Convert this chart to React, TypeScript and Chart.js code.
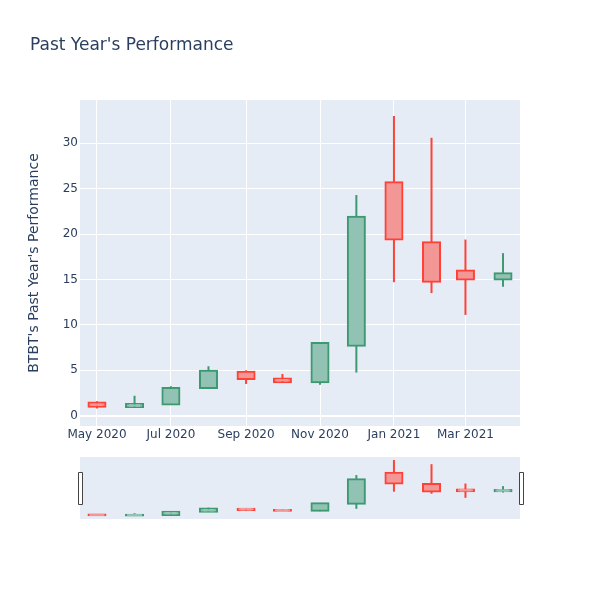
import React, { useEffect, useRef } from "react";
import { Chart, registerables } from "chart.js";

Chart.register(...registerables);

// ---- data ----
const dates = [
  "2020-05-01", "2020-06-01", "2020-07-01", "2020-08-01", "2020-09-01", "2020-10-01",
  "2020-11-01", "2020-12-01", "2021-01-01", "2021-02-01", "2021-03-01", "2021-04-01",
];
const opens = [1.45, 0.95, 1.25, 3.05, 4.85, 4.1, 3.7, 7.7, 25.7, 19.1, 16.0, 15.0];
const highs = [1.6, 2.2, 3.25, 5.45, 5.0, 4.6, 8.05, 24.3, 33.0, 30.6, 19.4, 17.9];
const lows = [0.8, 0.95, 1.2, 3.05, 3.5, 3.6, 3.4, 4.75, 14.7, 13.5, 11.1, 14.2];
const closes = [1.0, 1.3, 3.05, 4.95, 4.05, 3.7, 8.0, 21.9, 19.4, 14.75, 15.0, 15.7];

const xTickDates = ["2020-05-01", "2020-07-01", "2020-09-01", "2020-11-01", "2021-01-01", "2021-03-01"];
const xTickLabels = ["May 2020", "Jul 2020", "Sep 2020", "Nov 2020", "Jan 2021", "Mar 2021"];
const yTicks = [0, 5, 10, 15, 20, 25, 30];
const xRange = ["2020-04-17", "2021-04-15"];
const yRange = [-1.13, 34.76];

const chartTitle = "Past Year's Performance";
const yTitle = "BTBT's Past Year's Performance";

// ---- styles ----
const TEXT = "#2a3f5f";
const PLOT_BG = "#e5ecf6";
const UP_LINE = "#3D9970";
const DOWN_LINE = "#FF4136";
const UP_FILL = "#91c2b3";
const DOWN_FILL = "#f29696";
const FONT = '"DejaVu Sans", verdana, arial, sans-serif';

const toDay = (s: string) => Date.parse(s + "T00:00:00Z") / 86400000;

function buildDatasets() {
  const up = closes.map((c, i) => c >= opens[i]);
  return [
    {
      type: "bar" as const,
      label: "wick",
      data: dates.map((d, i) => ({ x: toDay(d), y: [lows[i], highs[i]] })),
      backgroundColor: up.map((u) => (u ? UP_LINE : DOWN_LINE)),
      borderWidth: 0,
      barThickness: 2,
      inflateAmount: 0,
      grouped: false,
      order: 2,
    },
    {
      type: "bar" as const,
      label: "body",
      data: dates.map((d, i) => ({ x: toDay(d), y: [opens[i], closes[i]] })),
      backgroundColor: up.map((u) => (u ? UP_FILL : DOWN_FILL)),
      borderColor: up.map((u) => (u ? UP_LINE : DOWN_LINE)),
      borderWidth: 2,
      borderSkipped: false,
      barThickness: 17,
      inflateAmount: 1,
      grouped: false,
      order: 1,
    },
  ];
}

const bgPlugin = {
  id: "plotBg",
  beforeDraw(chart: any, _args: any, opts: any) {
    const { ctx, chartArea } = chart;
    ctx.save();
    if (opts && opts.canvasWhite) {
      ctx.fillStyle = "#ffffff";
      ctx.fillRect(0, 0, chart.width, chart.height);
    }
    ctx.fillStyle = PLOT_BG;
    ctx.fillRect(chartArea.left, chartArea.top, chartArea.right - chartArea.left, chartArea.bottom - chartArea.top);
    ctx.restore();
  },
};

const handlesPlugin = {
  id: "sliderHandles",
  afterDraw(chart: any) {
    const { ctx, chartArea } = chart;
    const mid = (chartArea.top + chartArea.bottom) / 2;
    const h = 32;
    const w = 4;
    ctx.save();
    ctx.fillStyle = "#ffffff";
    ctx.strokeStyle = "#444444";
    ctx.lineWidth = 1;
    [chartArea.left - 0.5, chartArea.right + 0.5].forEach((cx) => {
      ctx.beginPath();
      ctx.rect(Math.round(cx - w / 2) + 0.5, Math.round(mid - h / 2) + 0.5, w, h);
      ctx.fill();
      ctx.stroke();
    });
    ctx.restore();
  },
};

export default function App() {
  const mainRef = useRef<HTMLCanvasElement | null>(null);
  const sliderRef = useRef<HTMLCanvasElement | null>(null);

  useEffect(() => {
    Chart.defaults.font.family = FONT;
    Chart.defaults.color = TEXT;

    const main = new Chart(mainRef.current as HTMLCanvasElement, {
      type: "bar",
      data: { datasets: buildDatasets() as any },
      plugins: [bgPlugin],
      options: {
        animation: false,
        responsive: false,
        layout: { padding: { left: 30, right: 80, top: 0, bottom: 144 } },
        plugins: {
          legend: { display: false },
          tooltip: { enabled: false },
          plotBg: { canvasWhite: true },
          title: {
            display: true,
            text: chartTitle,
            align: "start",
            color: TEXT,
            font: { size: 17, weight: "normal", family: FONT },
            padding: { top: 35.3, bottom: 44.3 },
          },
        } as any,
        scales: {
          x: {
            type: "linear",
            min: toDay(xRange[0]),
            max: toDay(xRange[1]),
            offset: false,
            afterBuildTicks: (s: any) => {
              s.ticks = xTickDates.map((d) => ({ value: toDay(d) }));
            },
            afterFit: (s: any) => {
              s.height = 30;
            },
            ticks: {
              color: TEXT,
              font: { size: 12 },
              padding: 2,
              maxRotation: 0,
              autoSkip: false,
              callback: (_v: any, i: number) => xTickLabels[i],
            },
            grid: { color: "#ffffff", drawTicks: false, offset: false },
            border: { display: false },
          },
          y: {
            type: "linear",
            min: yRange[0],
            max: yRange[1],
            afterBuildTicks: (s: any) => {
              s.ticks = yTicks.map((v) => ({ value: v }));
            },
            afterFit: (s: any) => {
              s.width = 50;
            },
            ticks: { color: TEXT, font: { size: 12 }, padding: 2 },
            grid: {
              color: "#ffffff",
              drawTicks: false,
              lineWidth: (ctx: any) => (ctx.tick && ctx.tick.value === 0 ? 2 : 1),
            },
            border: { display: false },
            title: {
              display: true,
              text: yTitle,
              color: TEXT,
              font: { size: 14 },
              padding: { top: -4.4, bottom: 0 },
            },
          },
        },
      } as any,
    });

    const slider = new Chart(sliderRef.current as HTMLCanvasElement, {
      type: "bar",
      data: { datasets: buildDatasets() as any },
      plugins: [bgPlugin, handlesPlugin],
      options: {
        animation: false,
        responsive: false,
        layout: { padding: { left: 80, right: 80, top: 457, bottom: 81 } },
        plugins: {
          legend: { display: false },
          tooltip: { enabled: false },
          title: { display: false },
          plotBg: { canvasWhite: false },
        } as any,
        scales: {
          x: {
            type: "linear",
            display: false,
            min: toDay(xRange[0]),
            max: toDay(xRange[1]),
            offset: false,
            grid: { offset: false },
          },
          y: { type: "linear", display: false, min: yRange[0], max: yRange[1] },
        },
      } as any,
    });

    return () => {
      main.destroy();
      slider.destroy();
    };
  }, []);

  return (
    <div style={{ position: "absolute", left: 0, top: 0, width: 600, height: 600 }}>
      <canvas ref={mainRef} width={600} height={600} style={{ position: "absolute", left: 0, top: 0 }} />
      <canvas
        ref={sliderRef}
        width={600}
        height={600}
        style={{ position: "absolute", left: 0, top: 0, pointerEvents: "none" }}
      />
    </div>
  );
}
